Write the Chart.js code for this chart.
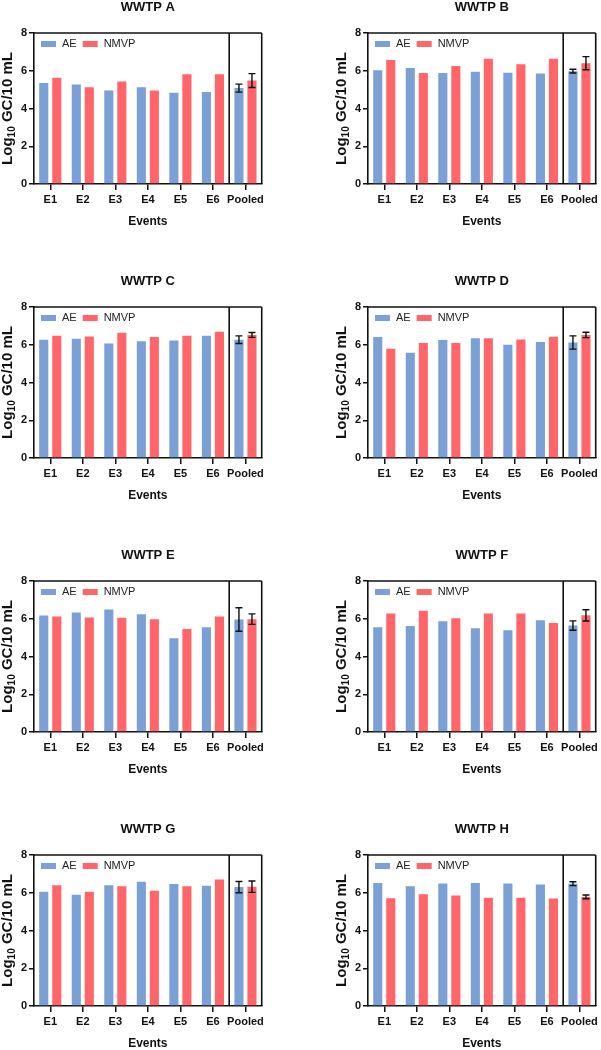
<!DOCTYPE html>
<html><head><meta charset="utf-8">
<script src="https://cdn.jsdelivr.net/npm/chart.js@4.4.1/dist/chart.umd.min.js"></script>
<style>
html,body{margin:0;padding:0;background:#fff;overflow:hidden;width:601px;height:1050px;position:relative;}
canvas{position:absolute;}
</style></head><body>
<canvas id="cA" width="267" height="230" style="left:0px;top:0px"></canvas>
<canvas id="cB" width="267" height="230" style="left:334px;top:0px"></canvas>
<canvas id="cC" width="267" height="230" style="left:0px;top:274px"></canvas>
<canvas id="cD" width="267" height="230" style="left:334px;top:274px"></canvas>
<canvas id="cE" width="267" height="230" style="left:0px;top:548px"></canvas>
<canvas id="cF" width="267" height="230" style="left:334px;top:548px"></canvas>
<canvas id="cG" width="267" height="230" style="left:0px;top:822px"></canvas>
<canvas id="cH" width="267" height="230" style="left:334px;top:822px"></canvas>
<script>
// ---- data ----
const categories = ['E1','E2','E3','E4','E5','E6','Pooled'];
const seriesNames = ['AE','NMVP'];
const yTicks = [0,2,4,6,8];
const panelTitles = ['WWTP A','WWTP B','WWTP C','WWTP D','WWTP E','WWTP F','WWTP G','WWTP H'];
const xTitle = 'Events';

const aeA   = [5.35, 5.27, 4.96, 5.12, 4.83, 4.87, 5.08];
const nmvpA = [5.63, 5.13, 5.43, 4.96, 5.81, 5.82, 5.48];
const errA  = [0.21, 0.37];

const aeB   = [6.02, 6.14, 5.88, 5.95, 5.89, 5.86, 5.98];
const nmvpB = [6.57, 5.88, 6.25, 6.64, 6.35, 6.64, 6.40];
const errB  = [0.10, 0.35];

const aeC   = [6.27, 6.32, 6.07, 6.18, 6.23, 6.48, 6.27];
const nmvpC = [6.48, 6.44, 6.64, 6.41, 6.48, 6.69, 6.52];
const errC  = [0.20, 0.13];

const aeD   = [6.41, 5.58, 6.25, 6.35, 6.00, 6.14, 6.12];
const nmvpD = [5.79, 6.09, 6.09, 6.35, 6.28, 6.42, 6.52];
const errD  = [0.35, 0.14];

const aeE   = [6.17, 6.33, 6.49, 6.24, 4.97, 5.55, 5.96];
const nmvpE = [6.12, 6.06, 6.05, 5.98, 5.46, 6.12, 5.98];
const errE  = [0.62, 0.28];

const aeF   = [5.55, 5.62, 5.87, 5.50, 5.39, 5.92, 5.64];
const nmvpF = [6.28, 6.42, 6.03, 6.28, 6.28, 5.78, 6.18];
const errF  = [0.25, 0.30];

const aeG   = [6.05, 5.89, 6.40, 6.58, 6.47, 6.37, 6.30];
const nmvpG = [6.40, 6.05, 6.35, 6.10, 6.35, 6.70, 6.32];
const errG  = [0.30, 0.30];

const aeH   = [6.51, 6.35, 6.49, 6.51, 6.49, 6.44, 6.48];
const nmvpH = [5.71, 5.92, 5.85, 5.73, 5.73, 5.69, 5.78];
const errH  = [0.10, 0.10];

const panels = [
  ['cA', aeA, nmvpA, errA], ['cB', aeB, nmvpB, errB],
  ['cC', aeC, nmvpC, errC], ['cD', aeD, nmvpD, errD],
  ['cE', aeE, nmvpE, errE], ['cF', aeF, nmvpF, errF],
  ['cG', aeG, nmvpG, errG], ['cH', aeH, nmvpH, errH]
];

// ---- styles ----
const FONT = "'Liberation Sans', Arial, Helvetica, sans-serif";
const BLUE = '#7aa0d6';
const RED = '#ff6569';
const INK = '#111111';
Chart.defaults.font.family = FONT;
Chart.defaults.color = INK;

const decor = {
  id: 'decor',
  afterDatasetsDraw(chart, args, opts) {
    const ctx = chart.ctx;
    const ys = chart.scales.y, xs = chart.scales.x;
    const ca = chart.chartArea;
    ctx.save();
    // error bars on the pooled bars
    const last = categories.length - 1;
    chart.data.datasets.forEach((ds, i) => {
      const bar = chart.getDatasetMeta(i).data[last];
      const m = ds.data[last], e = opts.err[i];
      const yT = ys.getPixelForValue(m + e), yB = ys.getPixelForValue(m - e);
      ctx.strokeStyle = INK; ctx.lineWidth = 1.4;
      ctx.beginPath();
      ctx.moveTo(bar.x, yT); ctx.lineTo(bar.x, yB);
      ctx.moveTo(bar.x - 3.5, yT); ctx.lineTo(bar.x + 3.5, yT);
      ctx.moveTo(bar.x - 3.5, yB); ctx.lineTo(bar.x + 3.5, yB);
      ctx.stroke();
    });
    // frame: top, right, separator
    ctx.strokeStyle = INK; ctx.lineWidth = 1.6;
    const sepX = (xs.getPixelForValue(last - 1) + xs.getPixelForValue(last)) / 2;
    ctx.beginPath();
    ctx.moveTo(ca.left, ca.top); ctx.lineTo(ca.right, ca.top);
    ctx.moveTo(ca.right, ca.top); ctx.lineTo(ca.right, ca.bottom);
    ctx.moveTo(sepX, ca.top); ctx.lineTo(sepX, ca.bottom);
    ctx.stroke();
    // legend inside plot, top-left
    ctx.font = '11px ' + FONT;
    ctx.textBaseline = 'middle';
    ctx.textAlign = 'left';
    let lx = ca.left + 7;
    const ly = ca.top + 11;
    chart.data.datasets.forEach((ds) => {
      ctx.fillStyle = ds.backgroundColor;
      ctx.fillRect(lx, ly - 3, 15, 6);
      lx += 21;
      ctx.fillStyle = '#222';
      ctx.fillText(ds.label, lx, ly);
      lx += ctx.measureText(ds.label).width + 6;
    });
    // title
    ctx.font = 'bold 13px ' + FONT;
    ctx.textAlign = 'center';
    ctx.fillStyle = INK;
    ctx.fillText(opts.title, (ca.left + ca.right) / 2, ca.top - 26);
    // y axis title with subscript
    const cy = (ca.top + ca.bottom) / 2;
    ctx.translate(8, cy);
    ctx.rotate(-Math.PI / 2);
    const p1 = 'Log', p2 = '10', p3 = ' GC/10 mL';
    ctx.font = 'bold 15px ' + FONT; const w1 = ctx.measureText(p1).width, w3 = ctx.measureText(p3).width;
    ctx.font = 'bold 10px ' + FONT; const w2 = ctx.measureText(p2).width;
    let tx = -(w1 + w2 + w3) / 2;
    ctx.textAlign = 'left';
    ctx.font = 'bold 15px ' + FONT; ctx.fillText(p1, tx, 0); tx += w1;
    ctx.font = 'bold 10px ' + FONT; ctx.fillText(p2, tx, 4); tx += w2;
    ctx.font = 'bold 15px ' + FONT; ctx.fillText(p3, tx, 0);
    ctx.restore();
  }
};

panels.forEach(([id, ae, nmvp, err], k) => {
  new Chart(document.getElementById(id), {
    type: 'bar',
    data: {
      labels: categories,
      datasets: [
        { label: seriesNames[0], data: ae, backgroundColor: BLUE, categoryPercentage: 0.8, barPercentage: 0.7 },
        { label: seriesNames[1], data: nmvp, backgroundColor: RED, categoryPercentage: 0.8, barPercentage: 0.7 }
      ]
    },
    plugins: [decor],
    options: {
      responsive: false,
      animation: false,
      devicePixelRatio: 1,
      layout: { padding: { top: 33, right: 3, left: 0, bottom: 0 } },
      plugins: {
        legend: { display: false },
        tooltip: { enabled: false },
        title: { display: false },
        decor: { err: err, title: panelTitles[k] }
      },
      scales: {
        x: {
          offset: true,
          grid: { display: true, drawOnChartArea: false, offset: false, tickLength: 6, lineWidth: 1.5, color: INK },
          border: { display: true, color: INK, width: 1.6 },
          ticks: { font: { size: 11, weight: 'bold' }, color: INK, padding: 3, maxRotation: 0, autoSkip: false },
          title: { display: true, text: xTitle, font: { size: 12, weight: 'bold' }, color: INK, padding: { top: 0, bottom: 1 } },
          afterFit(s) { s.height = 46; }
        },
        y: {
          min: 0, max: 8,
          afterBuildTicks(s) { s.ticks = yTicks.map(v => ({ value: v })); },
          grid: { display: true, drawOnChartArea: false, tickLength: 5, lineWidth: 1.5, color: INK },
          border: { display: true, color: INK, width: 1.6 },
          ticks: { font: { size: 11, weight: 'bold' }, color: INK, padding: 2 },
          afterFit(s) { s.width = 34; }
        }
      }
    }
  });
});
</script>
</body></html>
